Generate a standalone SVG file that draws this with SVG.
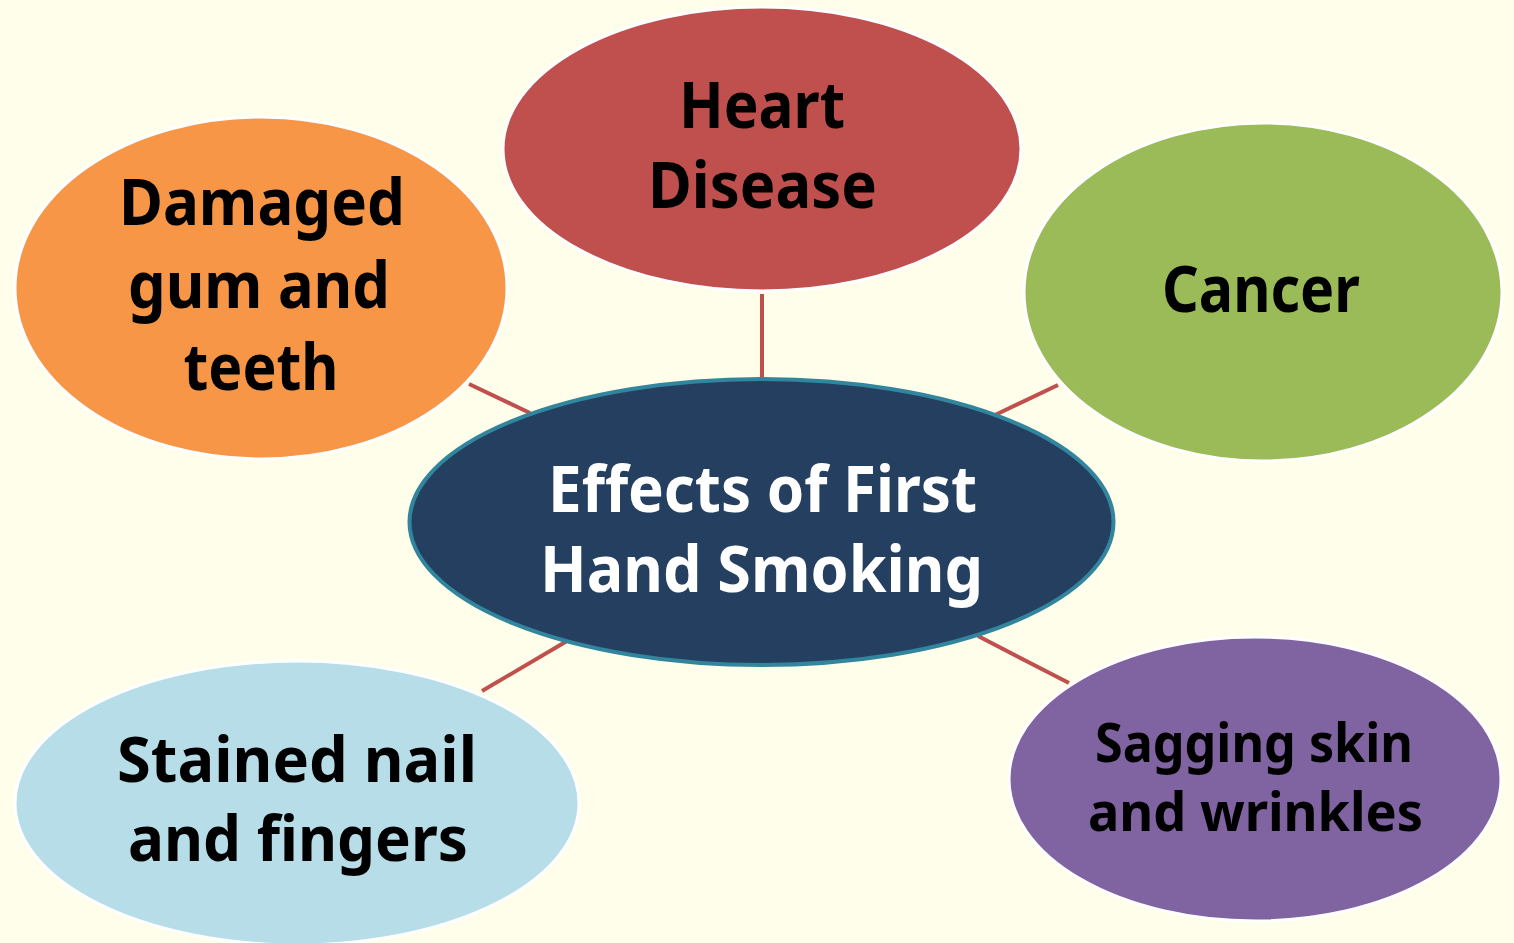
<svg xmlns="http://www.w3.org/2000/svg" width="1514" height="943" viewBox="0 0 1514 943">
  <style>
    .bubble { stroke: #FFFFFF; stroke-width: 3; }
    .lbl { font-family: "Noto Sans", "Open Sans", "Liberation Sans", sans-serif; font-weight: bold; font-size: 64px; fill: #000000; text-anchor: middle; }
    .lbl-md { font-size: 62px; }
    .lbl-sm { font-size: 54px; }
    .lbl-w { fill: #FFFFFF; }
    .conn { stroke: #C0504D; stroke-width: 4; stroke-linecap: butt; fill: none; }
  </style>
  <rect x="0" y="0" width="1514" height="943" fill="#FEFEEA"/>

  <g id="connectors">
    <line class="conn" x1="762" y1="294" x2="762" y2="379"/>
    <line class="conn" x1="469" y1="384" x2="530" y2="413"/>
    <line class="conn" x1="1058" y1="385" x2="995" y2="415"/>
    <line class="conn" x1="482" y1="691" x2="567" y2="641"/>
    <line class="conn" x1="978" y1="636" x2="1069" y2="683"/>
  </g>

  <g id="node-heart">
    <ellipse class="bubble" cx="762" cy="149" rx="259" ry="142" fill="#C0504D"/>
    <text class="lbl" x="762" y="128" textLength="166" lengthAdjust="spacingAndGlyphs">Heart</text>
    <text class="lbl" x="762.5" y="208" textLength="229" lengthAdjust="spacingAndGlyphs">Disease</text>
  </g>

  <g id="node-damaged">
    <ellipse class="bubble" cx="261" cy="288" rx="246" ry="171" fill="#F79646"/>
    <text class="lbl" x="262" y="225" textLength="286" lengthAdjust="spacingAndGlyphs">Damaged</text>
    <text class="lbl" x="259" y="308" textLength="262" lengthAdjust="spacingAndGlyphs">gum and</text>
    <text class="lbl" x="261" y="390" textLength="155" lengthAdjust="spacingAndGlyphs">teeth</text>
  </g>

  <g id="node-cancer">
    <ellipse class="bubble" cx="1263" cy="292" rx="239" ry="169" fill="#9BBB59"/>
    <text class="lbl" x="1261" y="312" textLength="198" lengthAdjust="spacingAndGlyphs">Cancer</text>
  </g>

  <g id="node-stained">
    <ellipse class="bubble" cx="297" cy="803" rx="282" ry="142" fill="#B7DEE8"/>
    <text class="lbl lbl-md" x="297" y="782" textLength="360" lengthAdjust="spacingAndGlyphs">Stained nail</text>
    <text class="lbl lbl-md" x="298" y="861" textLength="340" lengthAdjust="spacingAndGlyphs">and fingers</text>
  </g>

  <g id="node-sagging">
    <ellipse class="bubble" cx="1255" cy="779" rx="246" ry="142" fill="#8064A2"/>
    <text class="lbl lbl-sm" x="1254" y="762" textLength="318" lengthAdjust="spacingAndGlyphs">Sagging skin</text>
    <text class="lbl lbl-sm" x="1255.5" y="831" textLength="335" lengthAdjust="spacingAndGlyphs">and wrinkles</text>
  </g>

  <g id="node-center">
    <ellipse cx="761.5" cy="522" rx="352" ry="143" fill="#243F60" stroke="#31859C" stroke-width="4"/>
    <text class="lbl lbl-w" x="762.5" y="512" textLength="429" lengthAdjust="spacingAndGlyphs">Effects of First</text>
    <text class="lbl lbl-w" x="761.5" y="592" textLength="443" lengthAdjust="spacingAndGlyphs">Hand Smoking</text>
  </g>
</svg>
